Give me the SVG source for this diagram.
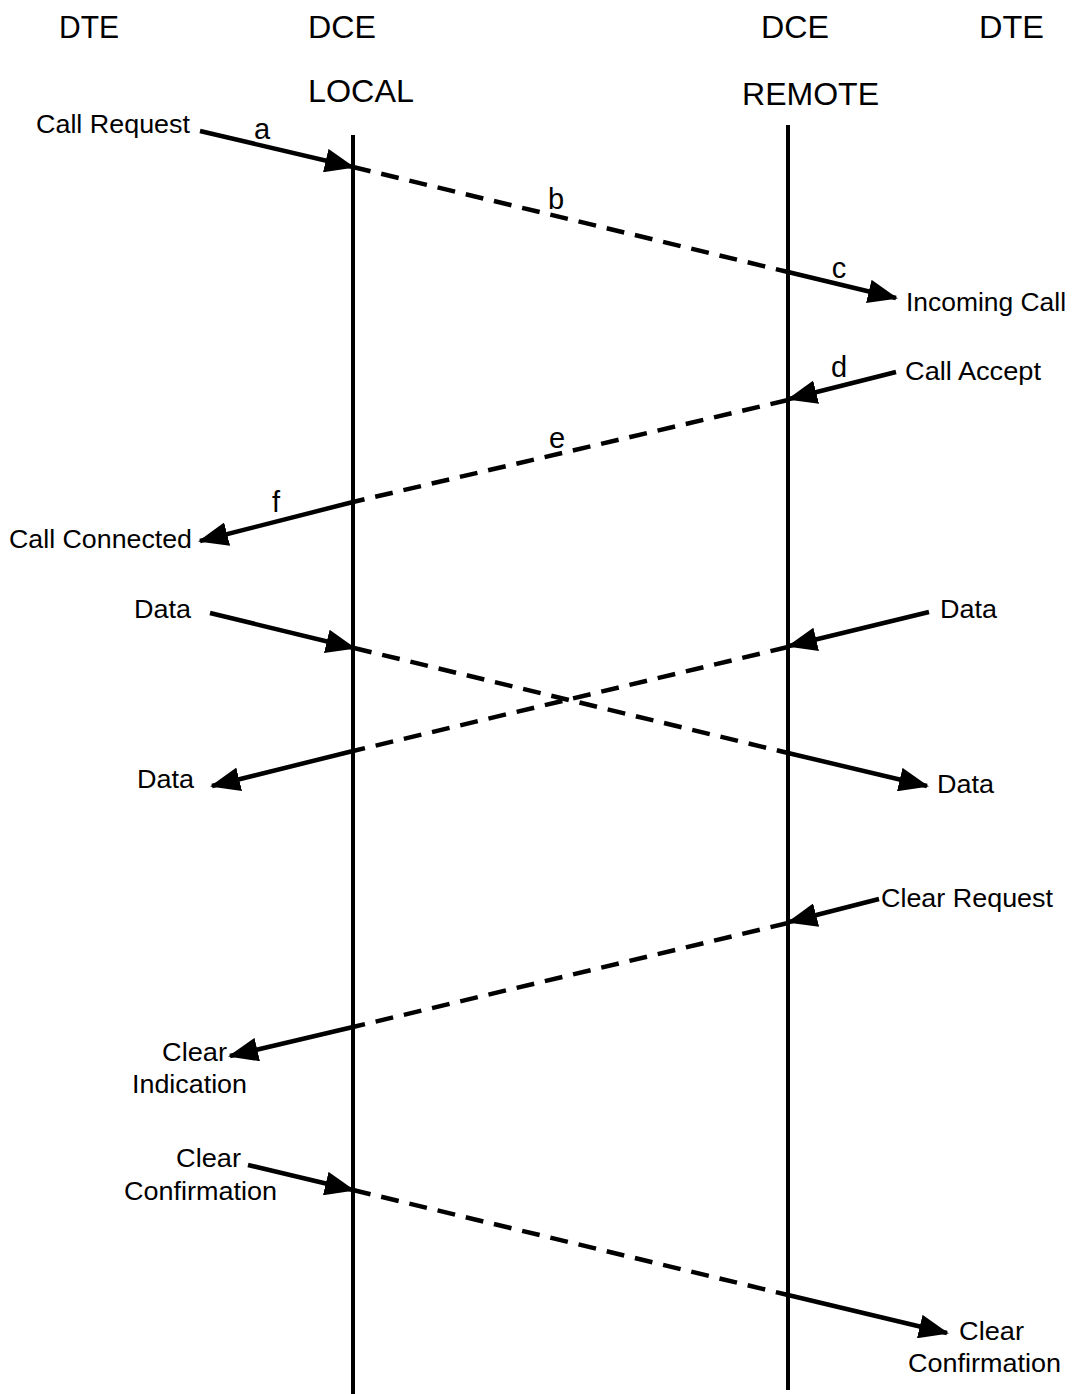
<svg xmlns="http://www.w3.org/2000/svg" width="1074" height="1394" viewBox="0 0 1074 1394">
<defs>
<marker id="ah" markerUnits="userSpaceOnUse" markerWidth="31" markerHeight="24" refX="28" refY="12" orient="auto">
<path d="M0,0 L30,12 L0,24 z" fill="#000"/>
</marker>
<style>
.hd{font-family:"Liberation Sans",Arial,sans-serif;font-size:32px;fill:#000}
.lb{font-family:"Liberation Sans",Arial,sans-serif;font-size:26px;fill:#000}
.lt{font-family:"Liberation Sans",Arial,sans-serif;font-size:29px;fill:#000;text-anchor:middle}
.ln{stroke:#000;stroke-width:4;fill:none}
.ar{stroke:#000;stroke-width:4.5;fill:none;marker-end:url(#ah)}
.ds{stroke:#000;stroke-width:4.5;fill:none;stroke-dasharray:18,11}
</style>
</defs>
<rect width="1074" height="1394" fill="#fff"/>
<g id="headers">
<text class="hd" x="59" y="38" textLength="60" lengthAdjust="spacingAndGlyphs">DTE</text>
<text class="hd" x="308" y="38" textLength="68" lengthAdjust="spacingAndGlyphs">DCE</text>
<text class="hd" x="761" y="38" textLength="68" lengthAdjust="spacingAndGlyphs">DCE</text>
<text class="hd" x="979" y="38" textLength="65" lengthAdjust="spacingAndGlyphs">DTE</text>
<text class="hd" x="308" y="102" textLength="106" lengthAdjust="spacingAndGlyphs">LOCAL</text>
<text class="hd" x="742" y="105" textLength="137" lengthAdjust="spacingAndGlyphs">REMOTE</text>
</g>
<g id="lifeline-local"><line class="ln" x1="353" y1="135" x2="353" y2="1394"/></g>
<g id="lifeline-remote"><line class="ln" x1="788" y1="125" x2="788" y2="1390"/></g>
<g id="connectors">
<line class="ar" x1="200" y1="131" x2="353" y2="167"/>
<line class="ds" x1="353" y1="167" x2="788" y2="272"/>
<line class="ar" x1="788" y1="272" x2="896" y2="298"/>
<line class="ar" x1="896" y1="372" x2="789" y2="399"/>
<line class="ds" x1="788" y1="400" x2="353" y2="502"/>
<line class="ar" x1="353" y1="502" x2="200" y2="541"/>
<line class="ar" x1="210" y1="613" x2="354" y2="648"/>
<line class="ds" x1="354" y1="648" x2="788" y2="753"/>
<line class="ar" x1="788" y1="753" x2="927" y2="786"/>
<line class="ar" x1="929" y1="612" x2="789" y2="646"/>
<line class="ds" x1="788" y1="647" x2="353" y2="751"/>
<line class="ar" x1="353" y1="751" x2="212" y2="786"/>
<line class="ar" x1="879" y1="899" x2="789" y2="922"/>
<line class="ds" x1="788" y1="923" x2="353" y2="1027"/>
<line class="ar" x1="353" y1="1027" x2="230" y2="1056"/>
<line class="ar" x1="248" y1="1165" x2="353" y2="1190"/>
<line class="ds" x1="353" y1="1190" x2="788" y2="1295"/>
<line class="ar" x1="788" y1="1295" x2="947" y2="1333"/>
</g>
<g id="step-letters">
<text class="lt" x="262" y="139">a</text>
<text class="lt" x="556" y="209">b</text>
<text class="lt" x="839" y="278">c</text>
<text class="lt" x="839" y="377">d</text>
<text class="lt" x="557" y="448">e</text>
<text class="lt" x="276" y="512">f</text>
</g>
<g id="labels">
<text class="lb" x="36" y="133" textLength="154" lengthAdjust="spacingAndGlyphs">Call Request</text>
<text class="lb" x="906" y="311" textLength="160" lengthAdjust="spacingAndGlyphs">Incoming Call</text>
<text class="lb" x="905" y="380" textLength="136" lengthAdjust="spacingAndGlyphs">Call Accept</text>
<text class="lb" x="9" y="548" textLength="183" lengthAdjust="spacingAndGlyphs">Call Connected</text>
<text class="lb" x="134" y="618" textLength="57" lengthAdjust="spacingAndGlyphs">Data</text>
<text class="lb" x="940" y="618" textLength="57" lengthAdjust="spacingAndGlyphs">Data</text>
<text class="lb" x="137" y="788" textLength="57" lengthAdjust="spacingAndGlyphs">Data</text>
<text class="lb" x="937" y="793" textLength="57" lengthAdjust="spacingAndGlyphs">Data</text>
<text class="lb" x="881" y="907" textLength="172" lengthAdjust="spacingAndGlyphs">Clear Request</text>
<text class="lb" x="162" y="1061" textLength="65" lengthAdjust="spacingAndGlyphs">Clear</text>
<text class="lb" x="132" y="1093" textLength="115" lengthAdjust="spacingAndGlyphs">Indication</text>
<text class="lb" x="176" y="1167" textLength="65" lengthAdjust="spacingAndGlyphs">Clear</text>
<text class="lb" x="124" y="1200" textLength="153" lengthAdjust="spacingAndGlyphs">Confirmation</text>
<text class="lb" x="959" y="1340" textLength="65" lengthAdjust="spacingAndGlyphs">Clear</text>
<text class="lb" x="908" y="1372" textLength="153" lengthAdjust="spacingAndGlyphs">Confirmation</text>
</g>
</svg>
